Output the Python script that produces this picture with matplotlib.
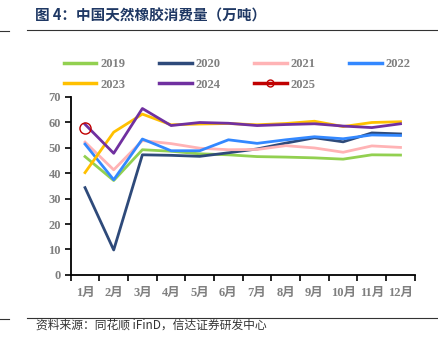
import numpy as np
import matplotlib.pyplot as plt
from matplotlib.lines import Line2D

months = ["1月", "2月", "3月", "4月", "5月", "6月", "7月", "8月", "9月", "10月", "11月", "12月"]

v2019 = [46.5, 37.1, 49.2, 48.6, 47.6, 47.2, 46.5, 46.3, 46.0, 45.5, 47.2, 47.1]
v2020 = [34.3, 9.8, 47.2, 47.0, 46.6, 48.0, 49.5, 51.8, 53.9, 52.3, 55.8, 55.4]
v2021 = [52.2, 41.3, 52.8, 51.6, 49.8, 49.2, 49.3, 50.8, 49.9, 48.2, 50.7, 50.1]
v2022 = [51.4, 37.4, 53.4, 48.8, 48.8, 53.1, 51.7, 53.1, 54.3, 53.5, 55.0, 54.8]
v2023 = [40.2, 56.1, 63.2, 59.0, 59.3, 59.5, 59.0, 59.5, 60.4, 58.3, 59.9, 60.2]
v2024 = [59.2, 47.8, 65.4, 58.7, 59.9, 59.6, 58.7, 59.1, 59.4, 58.5, 57.9, 59.4]
v2025 = [57.9]

years = ["2019", "2020", "2021", "2022", "2023", "2024", "2025"]
series = [v2019, v2020, v2021, v2022, v2023, v2024, v2025]
colors = ["#92D050", "#2E4A7A", "#FFB3B5", "#3388FF", "#FFC000", "#7030A0", "#C00000"]

gray = "#7F7F7F"
serif_cjk = ["Liberation Serif", "Noto Sans CJK SC"]

fig = plt.figure(figsize=(4.39, 3.52), dpi=100)
ax = fig.add_axes([0.161, 0.219, 0.784, 0.506])

x = np.arange(len(months))
for name, vals, c in zip(years[:-1], series[:-1], colors[:-1]):
    ax.plot(x[:len(vals)], vals, color=c, lw=2.0, label=name)
ax.plot(x[:len(v2025)], v2025, color=colors[-1], lw=2.0, marker="o", ms=8,
        mfc="none", mec=colors[-1], mew=1.0, label="2025")

ax.set_xlim(-0.5, 11.5)
ax.set_ylim(0, 70)
ax.set_yticks(range(0, 71, 10))
ax.set_xticks(x)
ax.set_xticklabels(months)
ax.set_xticks(np.arange(-0.5, 12, 1), minor=True)
ax.tick_params(axis="x", which="major", length=0, pad=9)
ax.tick_params(axis="x", which="minor", length=4, width=1.2, color="black")
ax.tick_params(axis="y", length=4, width=1.2, color="black", pad=3)
for lab in ax.get_xticklabels() + ax.get_yticklabels():
    lab.set_family(serif_cjk)
    lab.set_fontweight("bold")
    lab.set_fontsize(9)
    lab.set_color(gray)
for s in ["top", "right"]:
    ax.spines[s].set_visible(False)
for s in ["left", "bottom"]:
    ax.spines[s].set_linewidth(1.3)

handles = [Line2D([], [], color=c, lw=2.5) for c in colors[:-1]]
handles.append(Line2D([], [], color=colors[-1], lw=2.5, marker="o", ms=5,
                      mfc="none", mec=colors[-1]))
# legend fills column-first, so reorder to get rows 2019-2022 / 2023-2025
order = [0, 4, 1, 5, 2, 6, 3]
leg = fig.legend([handles[i] for i in order], [years[i] for i in order],
                 loc="upper left", bbox_to_anchor=(64 / 439, 1 - 58 / 352),
                 ncol=4, frameon=False, handlelength=2.6, handletextpad=0.3,
                 columnspacing=2.7, labelspacing=0.7, borderpad=0, borderaxespad=0,
                 prop={"family": "Liberation Serif", "weight": "bold", "size": 9})
for t in leg.get_texts():
    t.set_color(gray)

fig.text(0.08, 0.955, "图 4：中国天然橡胶消费量（万吨）", family="Noto Sans CJK SC",
         fontweight="bold", fontsize=10.5, color="#1F3864", va="center")
fig.add_artist(Line2D([0.062, 0.995], [0.915, 0.915], color="#333333", lw=0.8))
fig.add_artist(Line2D([0.0, 0.02], [0.912, 0.912], color="#333333", lw=0.8))
fig.add_artist(Line2D([0.062, 0.995], [0.098, 0.098], color="#333333", lw=0.8))
fig.add_artist(Line2D([0.0, 0.02], [0.094, 0.094], color="#333333", lw=0.8))
fig.text(0.083, 0.075, "资料来源：同花顺 iFinD，信达证券研发中心", family="Noto Sans CJK SC",
         fontsize=8.5, color="#333333", va="center", style="italic")

fig.savefig("out.png", dpi=100)
